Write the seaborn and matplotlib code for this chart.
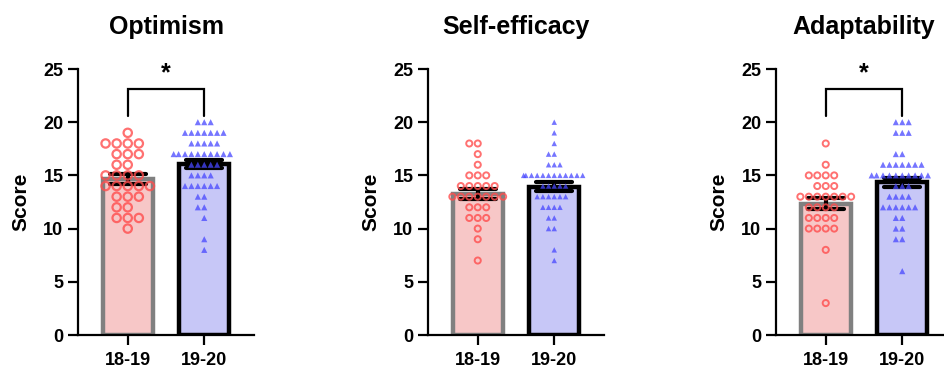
import numpy as np
import pandas as pd
import seaborn as sns
import matplotlib.pyplot as plt

# Cohorts on the x axis
groups = ["18-19", "19-20"]
panel_titles = ["Optimism", "Self-efficacy", "Adaptability"]

# Individual scores per cohort, stored as (score levels, number of students at that level)
optimism_1819_levels = [19, 18, 17, 16, 15, 14, 13, 12, 11, 10]
optimism_1819_counts = [1, 4, 3, 2, 4, 5, 3, 2, 3, 1]
optimism_1920_levels = [20, 19, 18, 17, 16, 15, 14, 13, 12, 11, 9, 8]
optimism_1920_counts = [3, 7, 5, 10, 5, 4, 6, 2, 2, 1, 1, 1]

efficacy_1819_levels = [18, 17, 16, 15, 14, 13, 12, 11, 10, 9, 7]
efficacy_1819_counts = [2, 1, 1, 3, 5, 7, 3, 3, 1, 1, 1]
efficacy_1920_levels = [20, 19, 18, 17, 16, 15, 14, 13, 12, 11, 10, 8, 7]
efficacy_1920_counts = [1, 1, 1, 2, 3, 12, 5, 6, 4, 2, 2, 1, 1]

adapt_1819_levels = [18, 16, 15, 14, 13, 12, 11, 10, 8, 3]
adapt_1819_counts = [1, 1, 4, 3, 7, 4, 4, 4, 1, 1]
adapt_1920_levels = [20, 19, 17, 16, 15, 14, 13, 12, 11, 10, 9, 6]
adapt_1920_counts = [3, 3, 2, 7, 10, 3, 4, 6, 2, 2, 2, 1]

# Significance marks per panel (None = no bracket)
significance = ["*", None, "*"]

yticks = [0, 5, 10, 15, 20, 25]

panel_data = [
    (optimism_1819_levels, optimism_1819_counts, optimism_1920_levels, optimism_1920_counts),
    (efficacy_1819_levels, efficacy_1819_counts, efficacy_1920_levels, efficacy_1920_counts),
    (adapt_1819_levels, adapt_1819_counts, adapt_1920_levels, adapt_1920_counts),
]

# Marker sizing per panel (the swarm spacing follows marker size + edge width)
circle_size = [6.0, 4.4, 4.4]
circle_lw = [1.6, 1.4, 1.4]
tri_size = [4.4, 3.9, 4.4]


def build_frame(l1, c1, l2, c2):
    s1 = np.repeat(l1, c1)
    s2 = np.repeat(l2, c2)
    return pd.DataFrame({
        "group": [groups[0]] * len(s1) + [groups[1]] * len(s2),
        "score": np.concatenate([s1, s2]).astype(float),
    })


sns.set_theme(style="ticks")
plt.rcParams["font.family"] = ["Liberation Sans", "DejaVu Sans"]
plt.rcParams["font.weight"] = "bold"
plt.rcParams["text.color"] = "black"
plt.rcParams["axes.labelcolor"] = "black"
plt.rcParams["axes.titlecolor"] = "black"

bar_fill = {"18-19": "#ffbfbf", "19-20": "#bfbfff"}
bar_edge = ["#808080", "#000000"]
red_pts = (1.0, 0.3, 0.3, 0.8)
blue_pts = (0.28, 0.28, 1.0, 0.75)

fig = plt.figure(figsize=(9.44, 3.71), dpi=100)
lefts = [78 / 944, 428 / 944, 776 / 944]
width = 176 / 944
bottom = 36 / 371
height = 266 / 371

for i, (title, data) in enumerate(zip(panel_titles, panel_data)):
    ax = fig.add_axes([lefts[i], bottom, width, height])
    df = build_frame(*data)

    sns.barplot(data=df, x="group", y="score", hue="group", order=groups,
                hue_order=groups, palette=bar_fill, legend=False,
                errorbar="se", capsize=0.47, width=0.655,
                err_kws={"color": "black", "linewidth": 3.0}, ax=ax)
    for patch, ec in zip(ax.patches, bar_edge):
        patch.set_edgecolor(ec)
        patch.set_linewidth(3.2)

    sns.swarmplot(data=df[df["group"] == groups[0]], x="group", y="score",
                  order=groups, marker="o", color=red_pts, facecolor="none",
                  edgecolor=red_pts, linewidth=circle_lw[i],
                  size=circle_size[i], ax=ax)
    sns.swarmplot(data=df[df["group"] == groups[1]], x="group", y="score",
                  order=groups, marker="^", color=blue_pts, edgecolor="none",
                  linewidth=0, size=tri_size[i], warn_thresh=1.0, ax=ax)

    ax.set_ylim(0, 25)
    ax.set_xlim(-0.65, 1.65)
    ax.set_yticks(yticks)
    ax.set_xlabel("")
    ax.set_ylabel("Score", fontsize=15, fontweight="bold", labelpad=9)
    ax.set_title(title, fontsize=18, fontweight="bold", pad=25)
    for lab in ax.get_xticklabels() + ax.get_yticklabels():
        lab.set_fontweight("bold")
    ax.tick_params(axis="both", labelsize=13, length=7.5, width=1.6,
                   direction="out", color="black", labelcolor="black", pad=3)
    ax.tick_params(axis="x", pad=5)
    sns.despine(ax=ax)
    for side in ("left", "bottom"):
        ax.spines[side].set_linewidth(1.6)
        ax.spines[side].set_color("black")

    mark = significance[i]
    if mark:
        ax.plot([0, 0, 1, 1], [20.6, 23.1, 23.1, 20.6], color="black",
                linewidth=1.6, clip_on=False, solid_joinstyle="miter")
        ax.text(0.5, 23.5, mark, ha="center", va="bottom", fontsize=18,
                fontweight="bold", color="black", clip_on=False)

fig.savefig("out.png", dpi=100)
